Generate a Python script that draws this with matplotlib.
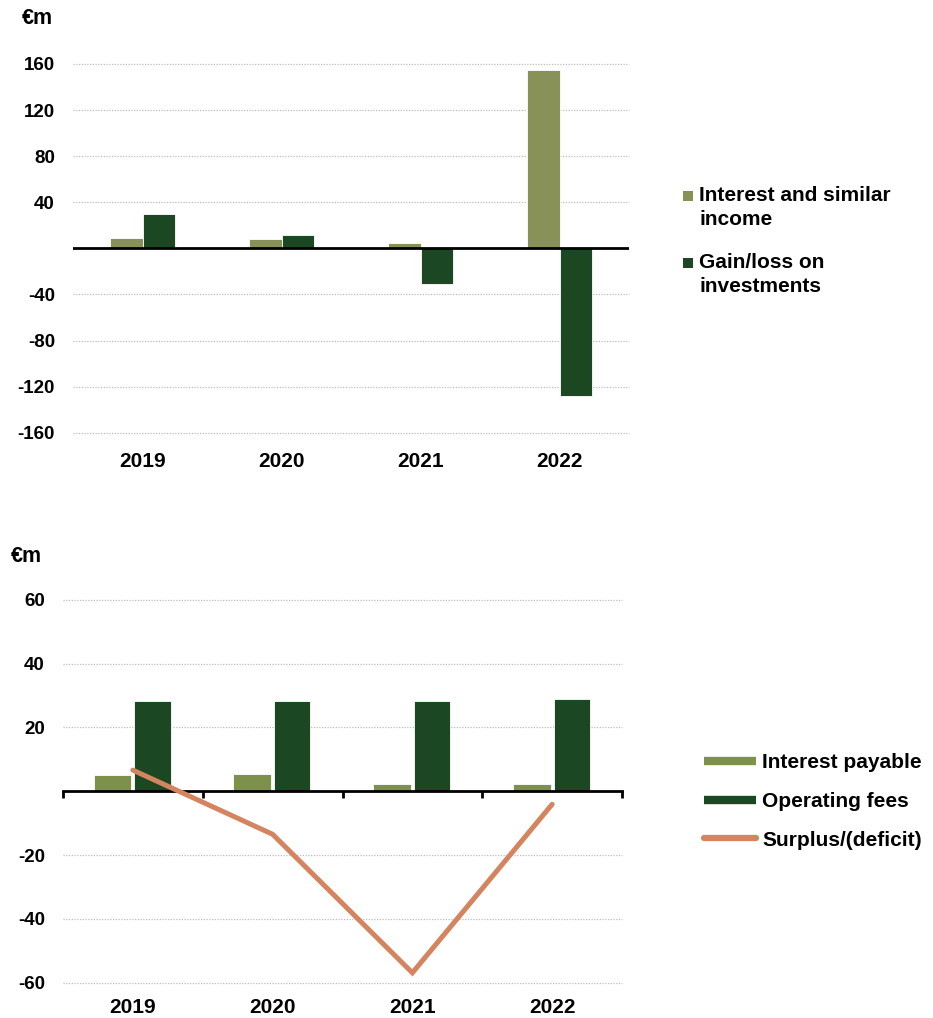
import numpy as np
import matplotlib
matplotlib.use("Agg")
import matplotlib.pyplot as plt
import matplotlib.patches as mpatches
from matplotlib.lines import Line2D
from matplotlib.legend_handler import HandlerPatch

plt.rcParams['font.family'] = ['Liberation Sans', 'DejaVu Sans']
plt.rcParams['font.weight'] = 'bold'

# ---- data (€m) ----
years = ['2019', '2020', '2021', '2022']
interest_income = [9.0, 8.1, 4.6, 154.5]
investment_gain = [30.1, 11.3, -31.0, -127.8]
interest_payable = [5.0, 5.3, 2.3, 2.3]
operating_fees = [28.2, 28.2, 28.4, 28.8]
surplus = [6.6, -13.5, -56.9, -4.1]

top_ticks = [-160, -120, -80, -40, 40, 80, 120, 160]
bottom_ticks = [-60, -40, -20, 20, 40, 60]

OLIVE = '#879158'
OLIVE_2 = '#7E914A'
DARK = '#1B4722'
SALMON = '#D4845F'
GRID = '#BDBDBD'

W, H = 933, 1018
fig = plt.figure(figsize=(W / 100, H / 100), dpi=100)

def px_axes(x0, x1, y0, y1):
    return fig.add_axes([x0 / W, 1 - y1 / H, (x1 - x0) / W, (y1 - y0) / H])

def style_axes(ax, yticks, xpad):
    for s in ax.spines.values():
        s.set_visible(False)
    ax.set_yticks(yticks)
    ax.set_yticklabels([str(t) for t in yticks])
    ax.tick_params(axis='y', length=0, pad=13, labelsize=13.5)
    ax.tick_params(axis='x', length=0, pad=xpad, labelsize=15)
    ax.yaxis.grid(True, color=GRID, linestyle=(0, (1, 1.2)), linewidth=0.9)
    for gl in ax.get_ygridlines():
        gl.set_clip_on(False)
    ax.set_axisbelow(True)

x = np.arange(len(years))

# ---- top panel: income and investment result ----
ax1 = px_axes(73, 629, 64, 432.7)
bw = 0.235
ax1.bar(x - bw / 2, interest_income, bw, color=OLIVE, edgecolor='white',
        linewidth=0.6, zorder=2)
ax1.bar(x + bw / 2, investment_gain, bw, color=DARK, edgecolor='white',
        linewidth=0.6, zorder=2)
ax1.axhline(0, color='black', linewidth=2.0, zorder=3)
ax1.set_xlim(-0.5, len(years) - 0.5)
ax1.set_ylim(-160, 160)
ax1.set_xticks(x)
ax1.set_xticklabels(years)
style_axes(ax1, top_ticks, 14)
fig.text(22 / W, 1 - 19 / H, '€m', fontsize=15.5, fontweight='bold',
         ha='left', va='center')


def square_on_first_line(legend, orig_handle, xdescent, ydescent, width,
                         height, fontsize):
    # small square aligned with the first line of a two-line label
    s = 0.48 * fontsize
    shift = 0.58 * fontsize
    return mpatches.Rectangle((-xdescent, -ydescent + (0.7 * fontsize - s) / 2 + shift),
                              s, s)


h1 = [mpatches.Patch(facecolor=OLIVE), mpatches.Patch(facecolor=DARK)]
l1 = ['Interest and similar\nincome', 'Gain/loss on\ninvestments']
leg1 = fig.legend(h1, l1, loc='upper left', bbox_to_anchor=(683 / W, 1 - 186 / H),
                  frameon=False, fontsize=15, borderpad=0, borderaxespad=0,
                  handlelength=0.48, handletextpad=0.3, labelspacing=1.15,
                  handler_map={mpatches.Patch: HandlerPatch(patch_func=square_on_first_line)})
for t in leg1.get_texts():
    t.set_linespacing(1.35)

# ---- bottom panel: costs and surplus ----
ax2 = px_axes(63, 622, 599.7, 982.7)
bw2 = 0.27
ax2.bar(x - 0.145, interest_payable, bw2, color=OLIVE_2, edgecolor='white',
        linewidth=0.6, zorder=2)
ax2.bar(x + 0.14, operating_fees, bw2 - 0.01, color=DARK, edgecolor='white',
        linewidth=0.6, zorder=2)
ax2.plot(x, surplus, color=SALMON, linewidth=3.6, solid_capstyle='round',
         solid_joinstyle='miter', zorder=4)
ax2.set_xlim(-0.5, len(years) - 0.5)
ax2.set_ylim(-60, 60)
ax2.set_xticks(x)
ax2.set_xticklabels(years)
style_axes(ax2, bottom_ticks, 11)

# category axis drawn through zero with boundary ticks
zero_axis = ax2.secondary_xaxis(0, transform=ax2.transData)
zero_axis.spines['bottom'].set_linewidth(2.0)
zero_axis.set_xticks(np.arange(len(years) + 1) - 0.5)
zero_axis.set_xticklabels([])
zero_axis.tick_params(axis='x', direction='out', length=5, width=2.0)
zero_axis.set_zorder(3)

fig.text(11 / W, 1 - 556 / H, '€m', fontsize=15.5, fontweight='bold',
         ha='left', va='center')

h2 = [Line2D([], [], color=OLIVE_2, linewidth=6, solid_capstyle='butt'),
      Line2D([], [], color=DARK, linewidth=6, solid_capstyle='butt'),
      Line2D([], [], color=SALMON, linewidth=4.5, solid_capstyle='round')]
l2 = ['Interest payable', 'Operating fees', 'Surplus/(deficit)']
fig.legend(h2, l2, loc='upper left', bbox_to_anchor=(704 / W, 1 - 753 / H),
           frameon=False, fontsize=15, borderpad=0, borderaxespad=0,
           handlelength=2.5, handletextpad=0.3, labelspacing=0.95)

fig.savefig('out.png', dpi=100)
